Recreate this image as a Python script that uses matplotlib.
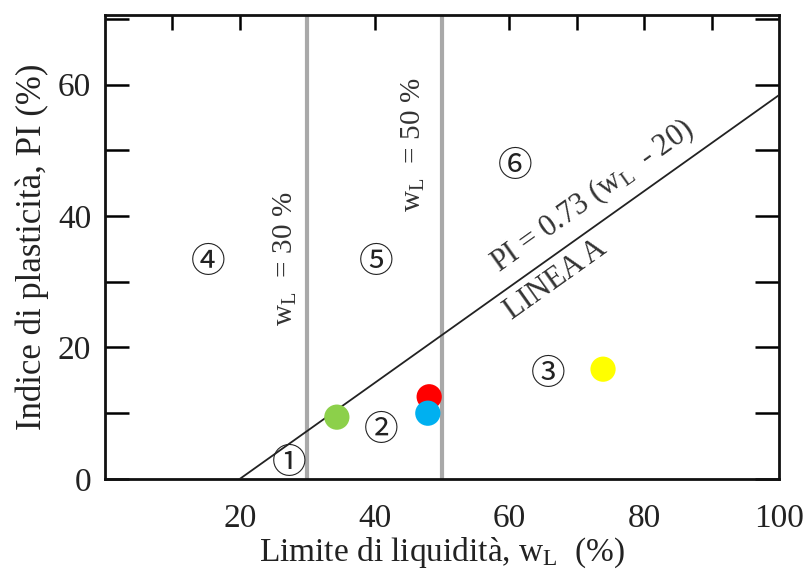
import numpy as np
import matplotlib
matplotlib.use("Agg")
import matplotlib.pyplot as plt

# Plasticity chart (Casagrande) with four soil samples
x_ticks = [20, 40, 60, 80, 100]
y_ticks = [0, 20, 40, 60]

sample_wl = [34.4, 48.1, 47.9, 73.9]
sample_pi = [9.4, 12.5, 10.0, 16.7]
sample_colors = ["#8cd04a", "#ff0000", "#00b0f0", "#ffff00"]

zone_labels = ["\u2460", "\u2461", "\u2462", "\u2463", "\u2464", "\u2465"]
zone_x = [27.3, 41.0, 65.8, 15.3, 40.3, 60.9]
zone_y = [2.3, 7.3, 15.9, 32.9, 33.0, 47.5]

a_slope = 0.73
a_offset = 20
wl_limits = [30, 50]

plt.rcParams["font.family"] = ["Liberation Serif", "DejaVu Serif"]
plt.rcParams["mathtext.fontset"] = "custom"
plt.rcParams["mathtext.rm"] = "Liberation Serif"
plt.rcParams["mathtext.it"] = "Liberation Serif:italic"

fig = plt.figure(figsize=(8.08, 5.77), dpi=100)
ax = fig.add_axes([0.130, 0.170, 0.834, 0.804])
ax.set_xlim(0, 100)
ax.set_ylim(0, 70.6)

text_col = "#222222"

# A-line
xa = np.array([a_offset, 100])
ax.plot(xa, a_slope * (xa - a_offset), color="#222222", lw=1.3, zorder=3)

# liquid-limit boundaries
for wl in wl_limits:
    ax.axvline(wl, color="#a9a9a9", lw=3, zorder=2)

# samples
ax.scatter(sample_wl, sample_pi, s=330, c=sample_colors, edgecolors="none", zorder=5)

# zone numbers
for lab, zx, zy in zip(zone_labels, zone_x, zone_y):
    ax.text(zx, zy, lab, fontsize=25, ha="center", va="center", color=text_col,
            family=["Noto Sans CJK JP", "DejaVu Sans"], zorder=4)

# line annotations
ax.text(26.8, 33.5, r"w$_\mathrm{L}$  = 30 %", rotation=90, fontsize=21,
        ha="center", va="center", color="#333333")
ax.text(45.8, 50.8, r"w$_\mathrm{L}$  = 50 %", rotation=90, fontsize=21,
        ha="center", va="center", color="#333333")
ang = np.degrees(np.arctan(a_slope * ax.bbox.height / 70.6 / (ax.bbox.width / 100)))
ax.text(72.3, 43.0, r"PI = 0.73 (w$_\mathrm{L}$  - 20)", rotation=ang,
        rotation_mode="anchor", fontsize=22, ha="center", va="center", color="#333333")
ax.text(66.9, 30.3, "LINEA A", rotation=ang, rotation_mode="anchor",
        fontsize=22, ha="center", va="center", color="#333333")

# axes styling
for sp in ax.spines.values():
    sp.set_linewidth(2)
    sp.set_color("#111111")

ax.set_xticks(x_ticks)
ax.set_xticklabels([str(v) for v in x_ticks])
ax.set_yticks(y_ticks)
ax.set_yticklabels([str(v) for v in y_ticks])
ax.set_yticks(range(10, 71, 20), minor=True)
ax.set_xticks(range(10, 100, 10), minor=True)

ax.tick_params(axis="x", which="both", bottom=False, top=False, labelsize=24,
               pad=14, labelcolor=text_col)
ax.tick_params(axis="y", which="both", left=True, right=True, direction="in",
               length=17, width=1.8, labelsize=24, pad=10, labelcolor=text_col)

# top ticks on a secondary axis so the bottom stays bare
top = ax.secondary_xaxis("top")
top.set_xticks(range(10, 100, 10))
top.tick_params(direction="in", length=11, width=1.8, labeltop=False)
top.spines["top"].set_visible(False)

ax.set_xlabel(r"Limite di liquidità, w$_\mathrm{L}$  (%)", fontsize=24, color=text_col, labelpad=1)
ax.set_ylabel("Indice di plasticità, PI (%)", fontsize=25, color=text_col, labelpad=6)

fig.savefig("out.png", dpi=100)
